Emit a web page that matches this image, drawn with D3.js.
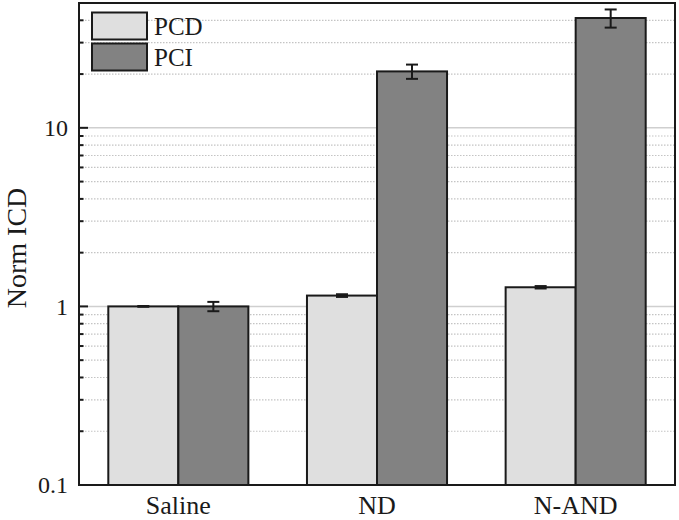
<!DOCTYPE html>
<html>
<head>
<meta charset="utf-8">
<script src="https://cdn.jsdelivr.net/npm/d3@7"></script>
<style>
  html, body { margin: 0; padding: 0; background: #fff; }
  svg { display: block; }
  svg text { font-family: "Liberation Serif", "Times New Roman", Times, "DejaVu Serif", serif; }
</style>
</head>
<body>
<script>
// chart values
const categories = ["Saline", "ND", "N-AND"];
const seriesNames = ["PCD", "PCI"];
const pcdValues = [1.0, 1.15, 1.28];
const pcdErrors = [0.005, 0.02, 0.02];
const pciValues = [1.0, 20.7, 41.2];
const pciErrors = [0.06, 1.9, 4.8];
const yTickLabels = ["0.1", "1", "10"];

const COLORS = { PCD: "#dfdfdf", PCI: "#828282" };
const INK = "#1a1a1a";
const FONT = "'Liberation Serif', 'Times New Roman', Times, serif";

const width = 679, height = 520;
const plot = { left: 79, right: 675, top: 3, bottom: 485 };

const svg = d3.select("body").append("svg")
    .attr("width", width)
    .attr("height", height)
    .attr("font-family", FONT);

const y = d3.scaleLog()
    .domain([0.1, 50])
    .range([plot.bottom, plot.top]);

const x0 = d3.scaleBand()
    .domain(categories)
    .range([plot.left, plot.right])
    .paddingInner(0.295)
    .paddingOuter(0.1475);

const x1 = d3.scaleBand()
    .domain(seriesNames)
    .range([0, x0.bandwidth()]);

const rows = categories.map((c, i) => ({
    cat: c,
    items: [
        { key: "PCD", value: pcdValues[i], err: pcdErrors[i] },
        { key: "PCI", value: pciValues[i], err: pciErrors[i] }
    ]
}));

// grid: solid at decades, dotted in between
const allTicks = y.ticks();
const isMajor = v => Math.abs(Math.log10(v) - Math.round(Math.log10(v))) < 1e-9;

svg.append("g")
    .selectAll("line")
    .data(allTicks.filter(v => v > 0.1))
    .join("line")
    .attr("x1", plot.left)
    .attr("x2", plot.right)
    .attr("y1", d => y(d))
    .attr("y2", d => y(d))
    .attr("stroke", d => isMajor(d) ? "#cfcfcf" : "#c4c4c4")
    .attr("stroke-width", d => isMajor(d) ? 1.5 : 1.2)
    .attr("stroke-dasharray", d => isMajor(d) ? null : "1.5,1.5");

// bars
const groups = svg.append("g")
    .selectAll("g")
    .data(rows)
    .join("g")
    .attr("transform", d => `translate(${x0(d.cat)},0)`);

groups.selectAll("rect")
    .data(d => d.items)
    .join("rect")
    .attr("x", d => x1(d.key))
    .attr("y", d => y(d.value))
    .attr("width", x1.bandwidth())
    .attr("height", d => y(0.1) - y(d.value))
    .attr("fill", d => COLORS[d.key])
    .attr("stroke", INK)
    .attr("stroke-width", 2);

// error bars
const capHalf = 6;
const eb = groups.selectAll("g.err")
    .data(d => d.items)
    .join("g")
    .attr("class", "err")
    .attr("stroke", INK)
    .attr("stroke-width", 2);

eb.append("line")
    .attr("x1", d => x1(d.key) + x1.bandwidth() / 2)
    .attr("x2", d => x1(d.key) + x1.bandwidth() / 2)
    .attr("y1", d => y(d.value + d.err))
    .attr("y2", d => y(d.value - d.err));
eb.append("line")
    .attr("x1", d => x1(d.key) + x1.bandwidth() / 2 - capHalf)
    .attr("x2", d => x1(d.key) + x1.bandwidth() / 2 + capHalf)
    .attr("y1", d => y(d.value + d.err))
    .attr("y2", d => y(d.value + d.err));
eb.append("line")
    .attr("x1", d => x1(d.key) + x1.bandwidth() / 2 - capHalf)
    .attr("x2", d => x1(d.key) + x1.bandwidth() / 2 + capHalf)
    .attr("y1", d => y(d.value - d.err))
    .attr("y2", d => y(d.value - d.err));

// inner y ticks (long at decades)
svg.append("g")
    .selectAll("line")
    .data(allTicks)
    .join("line")
    .attr("x1", plot.left)
    .attr("x2", d => plot.left + (isMajor(d) ? 9 : 4.5))
    .attr("y1", d => y(d))
    .attr("y2", d => y(d))
    .attr("stroke", INK)
    .attr("stroke-width", 2);

// y tick labels
svg.append("g")
    .selectAll("text")
    .data(yTickLabels)
    .join("text")
    .attr("x", 68)
    .attr("y", d => y(+d))
    .attr("dy", "0.35em")
    .attr("text-anchor", "end")
    .attr("font-size", 24)
    .attr("fill", INK)
    .text(d => d);

// frame
svg.append("rect")
    .attr("x", plot.left)
    .attr("y", plot.top)
    .attr("width", plot.right - plot.left)
    .attr("height", plot.bottom - plot.top)
    .attr("fill", "none")
    .attr("stroke", INK)
    .attr("stroke-width", 2);

// x category labels
svg.append("g")
    .selectAll("text")
    .data(categories)
    .join("text")
    .attr("x", d => x0(d) + x0.bandwidth() / 2)
    .attr("y", 514)
    .attr("text-anchor", "middle")
    .attr("font-size", 26)
    .attr("fill", INK)
    .text(d => d);

// y axis title
svg.append("text")
    .attr("transform", "translate(26,248) rotate(-90)")
    .attr("text-anchor", "middle")
    .attr("font-size", 28)
    .attr("fill", INK)
    .text("Norm ICD");

// legend
const legend = svg.append("g")
    .selectAll("g")
    .data(seriesNames)
    .join("g")
    .attr("transform", (d, i) => `translate(92,${12.5 + i * 31})`);

legend.append("rect")
    .attr("width", 55)
    .attr("height", 27)
    .attr("fill", d => COLORS[d])
    .attr("stroke", INK)
    .attr("stroke-width", 2);

legend.append("text")
    .attr("x", 62)
    .attr("y", 22.5)
    .attr("font-size", 25)
    .attr("fill", INK)
    .text(d => d);
</script>
</body>
</html>
